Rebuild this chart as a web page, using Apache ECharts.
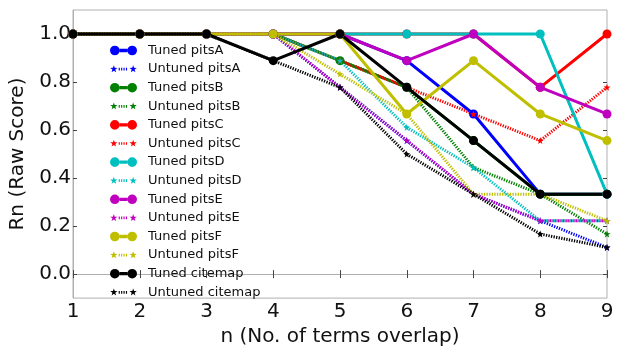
<!DOCTYPE html>
<html>
<head>
<meta charset="utf-8">
<script src="https://cdn.jsdelivr.net/npm/echarts@6/dist/echarts.min.js"></script>
<style>
  html, body { margin: 0; padding: 0; background: #fff; }
  #chart { width: 621px; height: 352px; }
</style>
</head>
<body>
<div id="chart"></div>
<script>
// data (values are mostly ninths)
var nValues = [1, 2, 3, 4, 5, 6, 7, 8, 9];
var yTicks = [0, 0.2, 0.4, 0.6, 0.8, 1.0];

var tunedPitsA     = [1, 1, 1, 1, 1, 0.889, 0.667, 0.333, 0.333];
var untunedPitsA   = [1, 1, 1, 1, 0.778, 0.556, 0.333, 0.222, 0.111];
var tunedPitsB     = [1, 1, 1, 1, 0.889, 0.778, 0.556, 0.333, 0.333];
var untunedPitsB   = [1, 1, 1, 1, 0.889, 0.778, 0.444, 0.333, 0.167];
var tunedPitsC     = [1, 1, 1, 1, 1, 1, 1, 0.778, 1];
var untunedPitsC   = [1, 1, 1, 1, 0.889, 0.778, 0.667, 0.556, 0.778];
var tunedPitsD     = [1, 1, 1, 1, 1, 1, 1, 1, 0.333];
var untunedPitsD   = [1, 1, 1, 1, 0.889, 0.611, 0.444, 0.222, 0.222];
var tunedPitsE     = [1, 1, 1, 1, 1, 0.889, 1, 0.778, 0.667];
var untunedPitsE   = [1, 1, 1, 1, 0.778, 0.556, 0.333, 0.222, 0.222];
var tunedPitsF     = [1, 1, 1, 1, 1, 0.667, 0.889, 0.667, 0.556];
var untunedPitsF   = [1, 1, 1, 1, 0.833, 0.667, 0.333, 0.333, 0.222];
var tunedCitemap   = [1, 1, 1, 0.889, 1, 0.778, 0.556, 0.333, 0.333];
var untunedCitemap = [1, 1, 1, 0.889, 0.778, 0.5, 0.333, 0.167, 0.111];

var lines = [
  ['Tuned pitsA', tunedPitsA, '#0000ff', true],
  ['Untuned pitsA', untunedPitsA, '#0000ff', false],
  ['Tuned pitsB', tunedPitsB, '#008000', true],
  ['Untuned pitsB', untunedPitsB, '#008000', false],
  ['Tuned pitsC', tunedPitsC, '#ff0000', true],
  ['Untuned pitsC', untunedPitsC, '#ff0000', false],
  ['Tuned pitsD', tunedPitsD, '#00bfbf', true],
  ['Untuned pitsD', untunedPitsD, '#00bfbf', false],
  ['Tuned pitsE', tunedPitsE, '#bf00bf', true],
  ['Untuned pitsE', untunedPitsE, '#bf00bf', false],
  ['Tuned pitsF', tunedPitsF, '#bfbf00', true],
  ['Untuned pitsF', untunedPitsF, '#bfbf00', false],
  ['Tuned citemap', tunedCitemap, '#000000', true],
  ['Untuned citemap', untunedCitemap, '#000000', false]
];

// 5 point star, like the matplotlib '*' marker
function starPts(cx, cy, ro, ri) {
  var s = '';
  for (var k = 0; k < 10; k++) {
    var r = k % 2 ? ri : ro;
    var a = -Math.PI / 2 + k * Math.PI / 5;
    s += (k ? 'L' : 'M') + (cx + r * Math.cos(a)).toFixed(2) + ',' + (cy + r * Math.sin(a)).toFixed(2);
  }
  return s + 'Z';
}
var starSymbol = 'path://' + starPts(10, 10, 10, 4);

// legend icons: line sample with a marker at each end (28 x 10)
var tunedIcon = 'path://M0,5a5,5 0 1,1 10,0a5,5 0 1,1 -10,0Z' +
  'M18,5a5,5 0 1,1 10,0a5,5 0 1,1 -10,0Z' +
  'M10,3.3L18,3.3L18,6.7L10,6.7Z';
var untunedIcon = 'path://' + starPts(4, 5, 4, 1.6) + starPts(24, 5, 4, 1.6);
for (var d = 9; d < 19; d += 2.5) {
  untunedIcon += 'M' + d + ',3.6L' + (d + 1.2) + ',3.6L' + (d + 1.2) + ',6.4L' + d + ',6.4Z';
}
untunedIcon += 'M0,0L0.01,0L0,0.01Z M28,10L27.99,10L28,9.99Z';

var series = [];
var legendData = [];
lines.forEach(function (l) {
  var pts = nValues.map(function (n, i) { return [n, l[1][i]]; });
  series.push({
    name: l[0],
    type: 'line',
    data: pts,
    color: l[2],
    symbol: l[3] ? 'circle' : starSymbol,
    symbolSize: l[3] ? 9 : 7,
    lineStyle: { width: 3, type: l[3] ? 'solid' : [1.3, 1.3] },
    itemStyle: { color: l[2], borderWidth: 0 },
    animation: false
  });
  legendData.push({ name: l[0], icon: l[3] ? tunedIcon : untunedIcon });
});

var myChart = echarts.init(document.getElementById('chart'));
var axisCol = '#b0b0b0';
var option = {
  backgroundColor: '#fff',
  textStyle: { fontFamily: 'DejaVu Sans' },
  grid: {
    left: 73, right: 14, top: 10, bottom: 48,
    show: true, borderColor: axisCol, borderWidth: 1
  },
  legend: {
    orient: 'vertical',
    left: 110, top: 44,
    padding: 0,
    itemWidth: 27, itemHeight: 10,
    itemGap: 5.6,
    data: legendData,
    itemStyle: { borderWidth: 0 },
    textStyle: { fontSize: 13, lineHeight: 13, color: '#111', fontFamily: 'DejaVu Sans', padding: [0, 0, 0, 6] }
  },
  xAxis: [{
    type: 'value', min: 1, max: 9, interval: 1,
    name: 'n (No. of terms overlap)',
    nameLocation: 'middle', nameGap: 21,
    nameTextStyle: { fontSize: 20, color: '#111' },
    axisLine: { show: true, lineStyle: { color: axisCol } },
    axisTick: { show: true, inside: true, length: 4, lineStyle: { color: '#444' } },
    axisLabel: { fontSize: 20, color: '#111', margin: 4 },
    splitLine: { show: false }
  }, {
    type: 'value', min: 1, max: 9, interval: 1, position: 'top',
    axisLine: { show: false },
    axisTick: { show: true, inside: true, length: 4, lineStyle: { color: '#444' } },
    axisLabel: { show: false },
    splitLine: { show: false }
  }],
  yAxis: [{
    type: 'value', min: -0.1, max: 1.1,
    name: 'Rn (Raw Score)',
    nameLocation: 'middle', nameGap: 37,
    nameTextStyle: { fontSize: 20, color: '#111' },
    axisLine: { show: true, lineStyle: { color: axisCol } },
    axisTick: { show: true, inside: true, length: 4, customValues: yTicks, lineStyle: { color: '#444' } },
    axisLabel: {
      fontSize: 20, color: '#111', margin: 2, customValues: yTicks,
      formatter: function (v) { return v.toFixed(1); }
    },
    splitLine: { show: false }
  }, {
    type: 'value', min: -0.1, max: 1.1, position: 'right',
    axisLine: { show: false },
    axisTick: { show: true, inside: true, length: 4, customValues: yTicks, lineStyle: { color: '#444' } },
    axisLabel: { show: false, customValues: yTicks },
    splitLine: { show: false }
  }],
  series: series
};
myChart.setOption(option);
</script>
</body>
</html>
